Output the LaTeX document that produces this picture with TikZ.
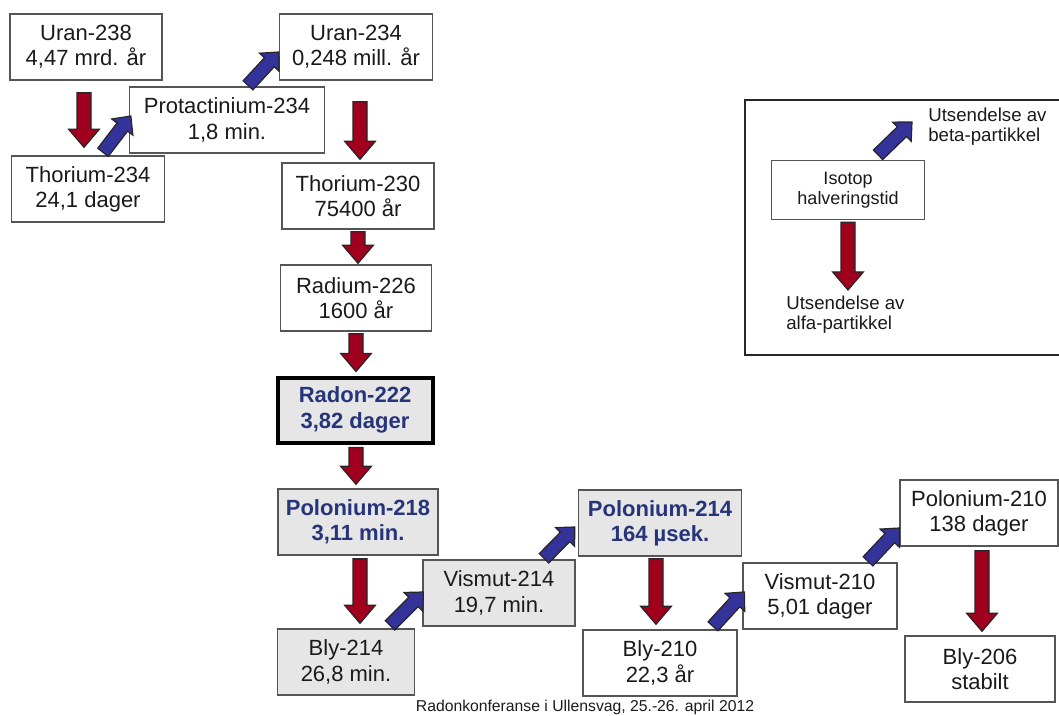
\documentclass[tikz,border=0pt]{standalone}
\usepackage{fontspec}
\setmainfont{Liberation Sans}
\usetikzlibrary{calc}
\definecolor{alfared}{HTML}{A0001E}
\definecolor{betablue}{HTML}{333399}
\definecolor{boxgray}{HTML}{E6E6E6}
\definecolor{bordergray}{HTML}{555555}
\definecolor{navytext}{HTML}{26347A}
\definecolor{txt}{HTML}{1A1A1A}
\newcommand{\blkarr}[6]{%
  \coordinate (bA) at #1; \coordinate (bB) at #2;
  \coordinate (bH) at ($(bB)!#6!(bA)$);
  \filldraw[fill=#3, draw=black!85, line width=0.9pt, line join=miter]
    ($(bA)!#4!90:(bB)$) -- ($(bH)!#4!90:(bB)$) -- ($(bH)!#5!90:(bB)$) -- (bB)
    -- ($(bH)!#5!-90:(bB)$) -- ($(bH)!#4!-90:(bB)$) -- ($(bA)!#4!-90:(bB)$) -- cycle;}
\newcommand{\alfaarr}[2]{\blkarr{#1}{#2}{alfared}{5.25pt}{11.5pt}{13.5pt}}
\newcommand{\betaarr}[2]{\blkarr{#1}{#2}{betablue}{5pt}{10pt}{10.5pt}}
\tikzset{
  iso/.style={draw=bordergray, line width=1pt, fill=white, align=center, text=txt,
    font=\fontsize{16.5}{19}\selectfont, inner sep=0pt,
    minimum width=#1*0.75pt, minimum height=66*0.75pt},
  iso/.default=152,
  grayiso/.style={iso=#1, fill=boxgray},
  grayiso/.default=152,
  hot/.style={text=navytext, font=\fontsize{16.5}{19}\selectfont\bfseries},
  legtext/.style={align=left, text=txt, font=\fontsize{14}{14}\selectfont, inner sep=0pt, anchor=north west}
}
\begin{document}
\begin{tikzpicture}[x=0.75pt,y=-0.75pt]
\useasboundingbox (0,0) rectangle (1059,716);
% nodes
\node[iso] (u238) at (86,47) {Uran-238\\4,47 mrd. år};
\node[iso=153] (th234) at (88,189) {Thorium-234\\24,1 dager};
\node[iso=195] (pa234) at (227,120) {Protactinium-234\\1,8 min.};
\node[iso=153] (u234) at (356,47) {Uran-234\\0,248 mill. år};
\node[iso] (th230) at (358,196) {Thorium-230\\75400 år};
\node[iso=151] (ra226) at (356,298) {Radium-226\\1600 år};
\node[grayiso=155, hot, draw=black, line width=3pt, minimum height=65*0.75pt] (rn222) at (355,410) {Radon-222\\3,82 dager};
\node[grayiso=160, hot] (po218) at (358,522) {Polonium-218\\3,11 min.};
\node[grayiso=137] (pb214) at (346,662) {Bly-214\\26,8 min.};
\node[grayiso=152] (bi214) at (499,593) {Vismut-214\\19,7 min.};
\node[grayiso=163, hot] (po214) at (660,523) {Polonium-214\\164 µsek.};
\node[iso=154] (pb210) at (660,663) {Bly-210\\22,3 år};
\node[iso=154] (bi210) at (820,596) {Vismut-210\\5,01 dager};
\node[iso=158] (po210) at (979,513) {Polonium-210\\138 dager};
\node[iso=150] (pb206) at (980,669) {Bly-206\\stabilt};
% legend
\draw[line width=1.6pt, draw=black!85] (1059,100) -- (745,100) -- (745,355) -- (1059,355);
\node[iso=153, minimum height=59*0.75pt, font=\fontsize{13.5}{15}\selectfont] (leg) at (848,190) {Isotop\\halveringstid};
\node[legtext] (legbeta) at (928,108) {Utsendelse av\\[1pt]beta-partikkel};
\node[legtext] (legalfa) at (786,296) {Utsendelse av\\[1pt]alfa-partikkel};
% alpha arrows
\alfaarr{($(u238.south)+(-2,12)$)}{($(th234.north)+(-4,-8)$)}
\alfaarr{($(u234.south)+(4,21)$)}{($(th230.north)+(2,-3)$)}
\alfaarr{($(th230.south)+(0,2)$)}{($(ra226.north)+(2,-1)$)}
\alfaarr{($(ra226.south)+(0,2)$)}{($(rn222.north)+(1,-4)$)}
\alfaarr{($(rn222.south)+(1,3)$)}{($(po218.north)+(-2,-4)$)}
\alfaarr{($(po218.south)+(2,3)$)}{($(pb214.north)+(14,-5)$)}
\alfaarr{($(po214.south)+(-4,2)$)}{($(pb210.north)+(-4,-5)$)}
\alfaarr{($(po210.south)+(3,4)$)}{($(pb206.north)+(2,-4)$)}
\alfaarr{($(leg.south)+(0,2)$)}{($(legalfa.north west)+(62,-6)$)}
% beta arrows
\betaarr{($(th234.north)+(15,-3)$)}{($(pa234.west)+(2,-4)$)}
\betaarr{($(pa234.north)+(21,-1)$)}{($(u234.west)+(0,5)$)}
\betaarr{($(pb214.north)+(44,-3)$)}{($(bi214.west)+(1,-1)$)}
\betaarr{($(bi214.north)+(45,-1)$)}{($(po214.west)+(-3,4)$)}
\betaarr{($(pb210.north)+(53,-3)$)}{($(bi210.west)+(2,-4)$)}
\betaarr{($(bi210.north)+(48,-1)$)}{($(po210.west)+(0,15)$)}
\betaarr{($(leg.north)+(30,-5)$)}{($(legbeta.north west)+(-16,14)$)}
% footer
\node[text=txt, font=\fontsize{11.8}{13}\selectfont, inner sep=0pt] (foot) at (585,707) {Radonkonferanse i Ullensvag, 25.-26. april 2012};
\end{tikzpicture}
\end{document}
